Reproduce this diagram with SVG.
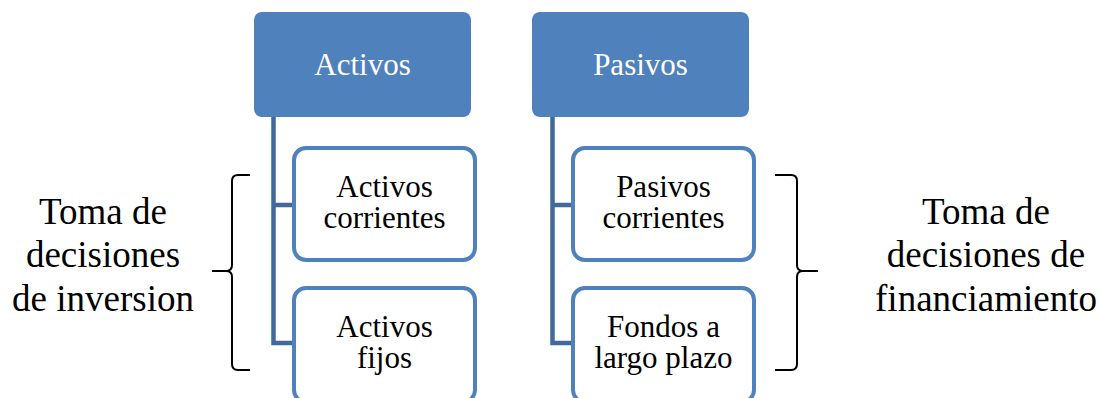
<svg xmlns="http://www.w3.org/2000/svg" width="1100" height="398" viewBox="0 0 1100 398">
<defs>
<style>
.top{fill:#4f81bd;}
.child{fill:#ffffff;stroke:#4f81bd;stroke-width:4;}
.conn{fill:none;stroke:#41699c;stroke-width:4.5;}
.brace{fill:none;stroke:#000000;stroke-width:2;}
text{font-family:"Liberation Serif","Times New Roman",serif;text-anchor:middle;}
.tw{fill:#ffffff;font-size:31px;}
.tc{fill:#000000;font-size:31px;}
.tl{fill:#000000;font-size:37px;}
</style>
</defs>
<rect width="1100" height="398" fill="#ffffff"/>
<g id="connectors">
<path class="conn" d="M273.5 117 V343 H294 M273.5 205 H294"/>
<path class="conn" d="M552.5 117 V343 H573 M552.5 205 H573"/>
</g>
<g id="activos">
<rect class="top" x="254" y="12" width="217" height="105" rx="8"/>
<text class="tw" x="362.5" y="75">Activos</text>
</g>
<g id="pasivos">
<rect class="top" x="532" y="12" width="217" height="105" rx="8"/>
<text class="tw" x="640.5" y="75">Pasivos</text>
</g>
<g id="activos-corrientes">
<rect class="child" x="294" y="148" width="181" height="112" rx="12"/>
<text class="tc"><tspan x="384.5" y="197">Activos</tspan><tspan x="384.5" y="228">corrientes</tspan></text>
</g>
<g id="activos-fijos">
<rect class="child" x="294" y="288" width="181" height="114" rx="12"/>
<text class="tc"><tspan x="384.5" y="337">Activos</tspan><tspan x="384.5" y="368">fijos</tspan></text>
</g>
<g id="pasivos-corrientes">
<rect class="child" x="573" y="148" width="181" height="112" rx="12"/>
<text class="tc"><tspan x="663.5" y="197">Pasivos</tspan><tspan x="663.5" y="228">corrientes</tspan></text>
</g>
<g id="fondos-largo-plazo">
<rect class="child" x="573" y="288" width="181" height="114" rx="12"/>
<text class="tc"><tspan x="663.5" y="337">Fondos a</tspan><tspan x="663.5" y="368">largo plazo</tspan></text>
</g>
<g id="brace-left">
<path class="brace" d="M250 175 H238 Q232 175 232 181 V265 Q232 271 226 271 H212 M226 271 Q232 271 232 277 V364 Q232 370 238 370 H250"/>
<text class="tl"><tspan x="103" y="224">Toma de</tspan><tspan x="103" y="267">decisiones</tspan><tspan x="103" y="311">de inversion</tspan></text>
</g>
<g id="brace-right">
<path class="brace" d="M775 175 H791 Q797 175 797 181 V265 Q797 271 803 271 H818 M803 271 Q797 271 797 277 V364 Q797 370 791 370 H775"/>
<text class="tl"><tspan x="986" y="224">Toma de</tspan><tspan x="986" y="267">decisiones de</tspan><tspan x="986" y="311">financiamiento</tspan></text>
</g>
</svg>
